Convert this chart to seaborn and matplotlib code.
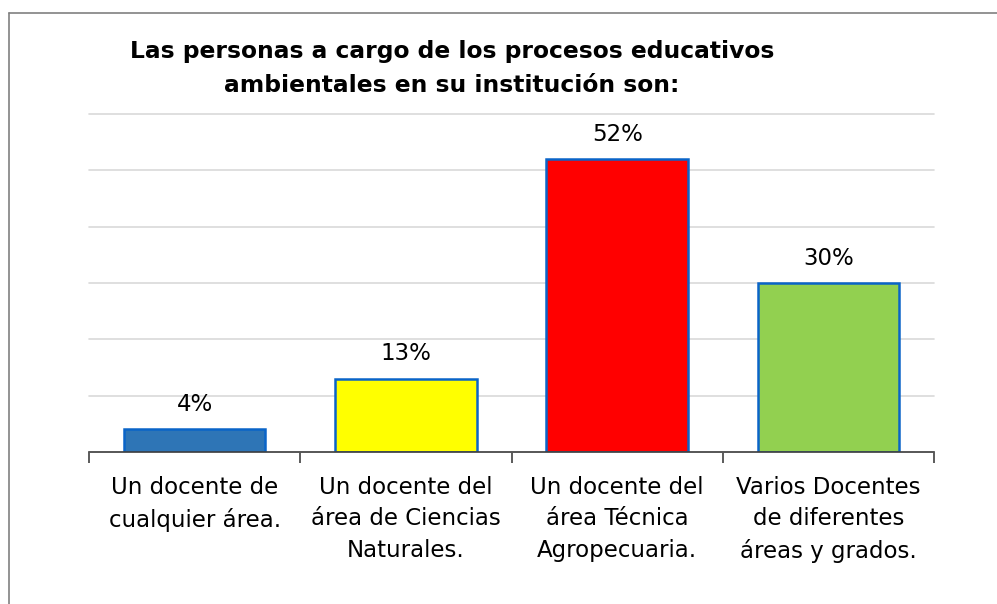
import numpy as np
import pandas as pd
import matplotlib.pyplot as plt
from matplotlib.lines import Line2D
import seaborn as sns

sns.set_theme(style="white")
plt.rcParams["font.family"] = ["DejaVu Sans"]
plt.rcParams["text.color"] = "black"
plt.rcParams["xtick.color"] = "black"

categories = [
    "Un docente de\ncualquier área.",
    "Un docente del\nárea de Ciencias\nNaturales.",
    "Un docente del\nárea Técnica\nAgropecuaria.",
    "Varios Docentes\nde diferentes\náreas y grados.",
]
values = [0.04, 0.13, 0.52, 0.30]
bar_colors = ["#2E75B6", "#FFFF00", "#FF0000", "#92D050"]
title = "Las personas a cargo de los procesos educativos\nambientales en su institución son:"

df = pd.DataFrame({"cat": categories, "val": values})

fig = plt.figure(figsize=(9.97, 6.04), dpi=100)
ax = fig.add_axes([0.0893, 0.2517, 0.8475, 0.5596])

sns.barplot(data=df, x="cat", y="val", hue="cat", palette=bar_colors,
            legend=False, width=0.67, edgecolor="#0A64C8", linewidth=1.8,
            saturation=1, ax=ax)

ax.set_ylim(0, 0.6)
ax.set_xlim(-0.5, 3.5)
ax.set_yticks(np.arange(0, 0.61, 0.1))
ax.yaxis.grid(True, color="#D9D9D9", linewidth=1.2)
for gl in ax.yaxis.get_gridlines():
    gl.set_clip_on(False)
ax.set_axisbelow(True)
ax.tick_params(axis="y", left=False, labelleft=False)
for s in ["top", "right", "left"]:
    ax.spines[s].set_visible(False)
ax.spines["bottom"].set_color("#404040")
ax.spines["bottom"].set_linewidth(1.2)

# tick marks at category boundaries, labels in the middle
ax.set_xticks(np.arange(-0.5, 4, 1))
ax.set_xticklabels([])
ax.tick_params(axis="x", which="major", bottom=True, length=8, width=1.2, color="#404040")
ax.set_xticks(range(len(categories)), minor=True)
ax.set_xticklabels(categories, minor=True, fontsize=16.5, linespacing=1.47)
ax.tick_params(axis="x", which="minor", bottom=False, pad=13)
ax.set_xlabel("")
ax.set_ylabel("")

for i, v in enumerate(values):
    ax.text(i, v + 0.044, f"{v:.0%}", ha="center", va="center", fontsize=16.5)

fig.text(0.4535, 0.886, title, ha="center", va="center", fontsize=16.8,
         fontweight="bold", linespacing=1.6)

# outer frame of the chart area
fig.add_artist(Line2D([0.009, 1.0], [0.9785, 0.9785], color="#808080", linewidth=1.2))
fig.add_artist(Line2D([0.009, 0.009], [0.0, 0.9785], color="#808080", linewidth=1.2))

plt.savefig("out.png", dpi=100)
